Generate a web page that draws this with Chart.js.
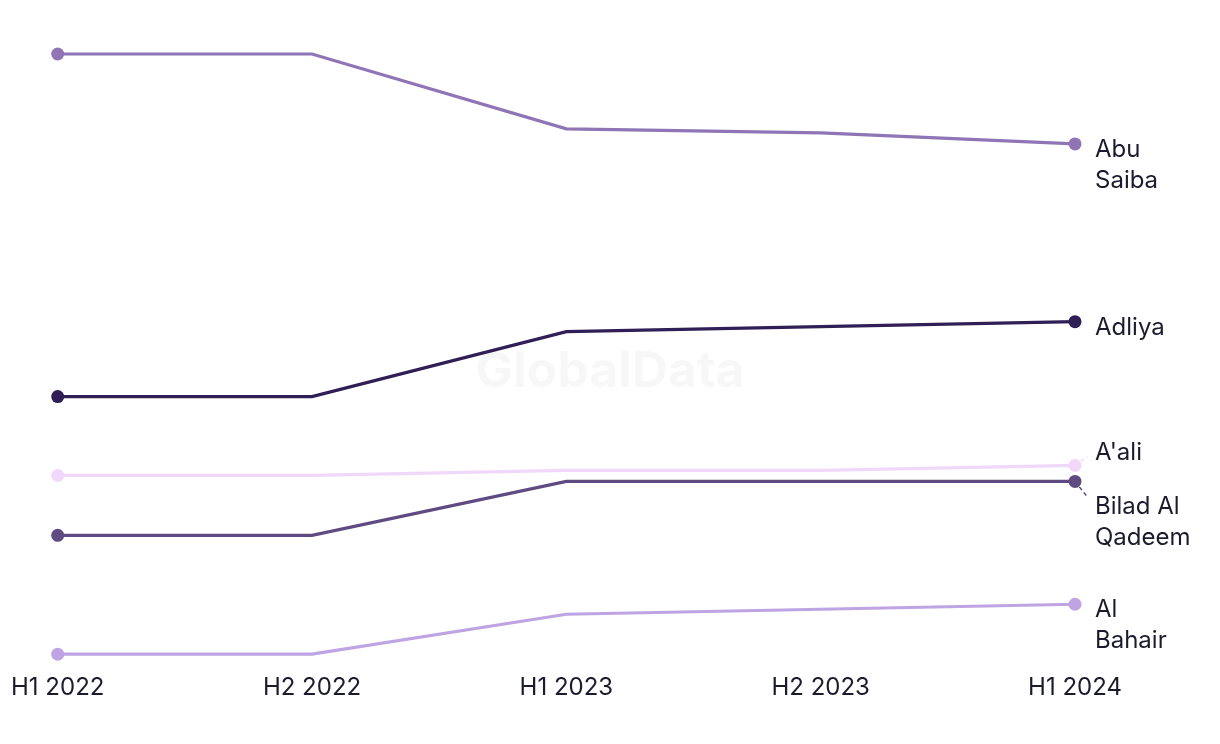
<!DOCTYPE html>
<html>
<head>
<meta charset="utf-8">
<script src="https://cdn.jsdelivr.net/npm/chart.js@4.4.1/dist/chart.umd.min.js"></script>
<style>
  html, body { margin: 0; padding: 0; background: #ffffff; }
  #wrap { width: 1220px; height: 744px; position: relative; }
</style>
</head>
<body>
<div id="wrap"><canvas id="c" width="1220" height="744"></canvas></div>
<script>
// ---- Data ----
const categories = ["H1 2022", "H2 2022", "H1 2023", "H2 2023", "H1 2024"];
const seriesNames = ["Abu Saiba", "Adliya", "A'ali", "Bilad Al Qadeem", "Al Bahair"];
const labelLines = [["Abu", "Saiba"], ["Adliya"], ["A'ali"], ["Bilad Al", "Qadeem"], ["Al", "Bahair"]];
const abuSaiba = [129.4, 129.4, 114.4, 113.6, 111.4];
const adliya = [60.8, 60.8, 73.8, 74.8, 75.8];
const aali = [45.0, 45.0, 46.0, 46.0, 47.0];
const biladAlQadeem = [33.0, 33.0, 43.8, 43.8, 43.8];
const alBahair = [9.2, 9.2, 17.2, 18.2, 19.2];
const seriesColors = ["#8f74b6", "#2f1f56", "#f1d8fb", "#5f4b82", "#bfa4e3"];

const allSeries = [abuSaiba, adliya, aali, biladAlQadeem, alBahair];
const allValues = allSeries.flat();
const yMin = Math.min(...allValues);
const yMax = Math.max(...allValues);

const FONT = "'Inter', 'Noto Sans', sans-serif";
const TEXT = "#1c1b2e";

const watermark = {
  id: 'watermark',
  beforeDatasetsDraw(chart) {
    const ctx = chart.ctx;
    ctx.save();
    ctx.font = "bold 50px " + FONT;
    ctx.fillStyle = "rgba(0,0,0,0.03)";
    ctx.textAlign = "center";
    ctx.textBaseline = "middle";
    ctx.fillText("GlobalData", chart.width / 2, chart.height / 2);
    ctx.restore();
  }
};

const endLabels = {
  id: 'endLabels',
  afterDatasetsDraw(chart) {
    const ctx = chart.ctx;
    const lineH = 31;
    const minSep = 54;
    const items = chart.data.datasets.map((ds, i) => {
      const meta = chart.getDatasetMeta(i);
      const pt = meta.data[meta.data.length - 1];
      return { i, px: pt.x, py: pt.y, y: pt.y + 6, lines: labelLines[i], color: ds.borderColor };
    });
    items.sort((a, b) => a.y - b.y);
    for (let iter = 0; iter < 10; iter++) {
      for (let k = 1; k < items.length; k++) {
        const a = items[k - 1], b = items[k];
        const req = a.lines.length > 1 ? a.lines.length * lineH + 10 : minSep;
        if (b.y - a.y < req) {
          const mid = (a.y + b.y) / 2;
          a.y = mid - req / 2;
          b.y = mid + req / 2;
        }
      }
    }
    ctx.save();
    ctx.font = "24px " + FONT;
    ctx.fillStyle = TEXT;
    ctx.textAlign = "left";
    ctx.textBaseline = "middle";
    const lx = items[0].px + 20;
    items.forEach(it => {
      it.lines.forEach((t, j) => ctx.fillText(t, lx, it.y + j * lineH));
      if (Math.abs(it.y - (it.py + 6)) > 4) {
        const dx = lx - 8 - it.px;
        const dy = it.y + (it.y < it.py ? 4 : -10) - it.py;
        const len = Math.hypot(dx, dy);
        const ux = dx / len, uy = dy / len;
        ctx.save();
        ctx.strokeStyle = it.color;
        ctx.lineWidth = 1.5;
        ctx.setLineDash([4, 3]);
        ctx.beginPath();
        ctx.moveTo(it.px + ux * 7, it.py + uy * 7);
        ctx.lineTo(it.px + ux * len, it.py + uy * len);
        ctx.stroke();
        ctx.restore();
      }
    });
    ctx.restore();
  }
};

const datasets = allSeries.map((vals, i) => ({
  label: seriesNames[i],
  data: vals,
  borderColor: seriesColors[i],
  backgroundColor: seriesColors[i],
  borderWidth: 3.2,
  tension: 0,
  pointRadius: (c) => (c.dataIndex === 0 || c.dataIndex === vals.length - 1) ? 6.5 : 0,
  pointHoverRadius: 6.5,
  pointBorderWidth: 0,
  clip: false
}));

new Chart(document.getElementById('c'), {
  type: 'line',
  data: { labels: categories, datasets },
  options: {
    responsive: false,
    animation: false,
    events: [],
    layout: { padding: { left: 55, right: 145, top: 54, bottom: 31 } },
    plugins: { legend: { display: false }, tooltip: { enabled: false } },
    scales: {
      x: {
        offset: false,
        grid: { display: false },
        border: { display: false },
        ticks: { color: TEXT, font: { size: 24, family: FONT }, padding: 11, maxRotation: 0, autoSkip: false }
      },
      y: { display: false, min: yMin, max: yMax }
    }
  },
  plugins: [watermark, endLabels]
});
</script>
</body>
</html>
